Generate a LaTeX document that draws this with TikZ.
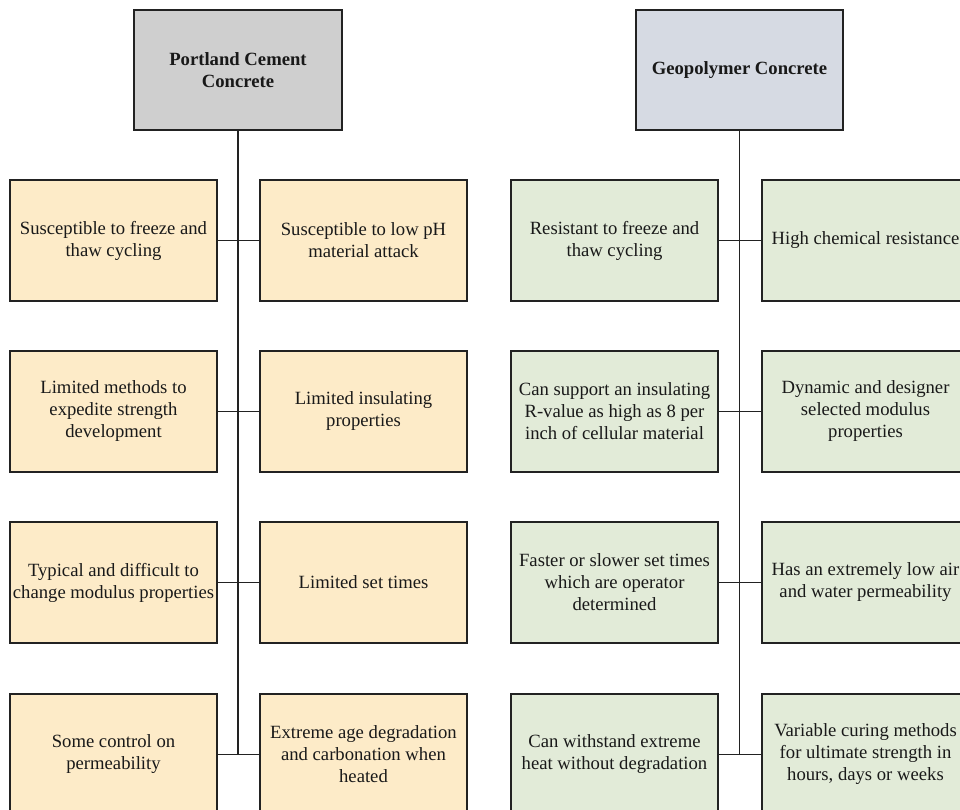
\documentclass[tikz,border=0pt]{standalone}
\usepackage{fontspec}
\setmainfont{Liberation Serif}
\definecolor{pcgray}{HTML}{CFCFCF}
\definecolor{gpblue}{HTML}{D6DAE3}
\definecolor{pcfill}{HTML}{FDEBC8}
\definecolor{gpfill}{HTML}{E2EBD8}
\definecolor{edge}{HTML}{222222}
\tikzset{
  box/.style={draw=edge, line width=1.1pt, minimum width=207*0.75pt, minimum height=121*0.75pt,
    align=center, inner sep=2pt, font=\fontsize{14}{16.5}\selectfont, text=black!90},
  head/.style={box, minimum height=120*0.75pt, font=\bfseries\fontsize{14}{16.5}\selectfont},
  pcbox/.style={box, fill=pcfill},
  gpbox/.style={box, fill=gpfill},
  link/.style={draw=edge, line width=1.1pt}
}
\begin{document}
\begin{tikzpicture}[x=0.75pt,y=-0.75pt]
\useasboundingbox (0,0) rectangle (960,810);
\clip (0,0) rectangle (960,810);
\node[head, fill=pcgray, minimum width=208*0.75pt] (pc) at (238,70) {Portland Cement\\Concrete};
\node[head, fill=gpblue] (gp) at (739.5,70) {Geopolymer Concrete};
% Portland column
\node[pcbox] (L1) at (113.5,240.5) {Susceptible to freeze and\\thaw cycling};
\node[pcbox] (R1) at (363.5,240.5) {Susceptible to low pH\\material attack};
\node[pcbox] (L2) at (113.5,411.5) {Limited methods to\\expedite strength\\development};
\node[pcbox] (R2) at (363.5,411.5) {Limited insulating\\properties};
\node[pcbox] (L3) at (113.5,582.5) {Typical and difficult to\\change modulus properties};
\node[pcbox] (R3) at (363.5,582.5) {Limited set times};
\node[pcbox] (L4) at (113.5,754.5) {Some control on\\permeability};
\node[pcbox] (R4) at (363.5,754.5) {Extreme age degradation\\and carbonation when\\heated};
% Geopolymer column
\node[gpbox] (G1) at (614.5,240.5) {Resistant to freeze and\\thaw cycling};
\node[gpbox] (H1) at (865.5,240.5) {High chemical resistance};
\node[gpbox] (G2) at (614.5,411.5) {Can support an insulating\\R-value as high as 8 per\\inch of cellular material};
\node[gpbox] (H2) at (865.5,411.5) {Dynamic and designer\\selected modulus\\properties};
\node[gpbox] (G3) at (614.5,582.5) {Faster or slower set times\\which are operator\\determined};
\node[gpbox] (H3) at (865.5,582.5) {Has an extremely low air\\and water permeability};
\node[gpbox] (G4) at (614.5,754.5) {Can withstand extreme\\heat without degradation};
\node[gpbox] (H4) at (865.5,754.5) {Variable curing methods\\for ultimate strength in\\hours, days or weeks};
% connectors
\draw[link] (pc.south) -- (pc.south |- L4.east);
\draw[link] (gp.south) -- (gp.south |- G4.east);
\foreach \a/\b in {L1/R1,L2/R2,L3/R3,L4/R4,G1/H1,G2/H2,G3/H3,G4/H4}
  \draw[link] (\a.east) -- (\b.west);
\end{tikzpicture}
\end{document}
